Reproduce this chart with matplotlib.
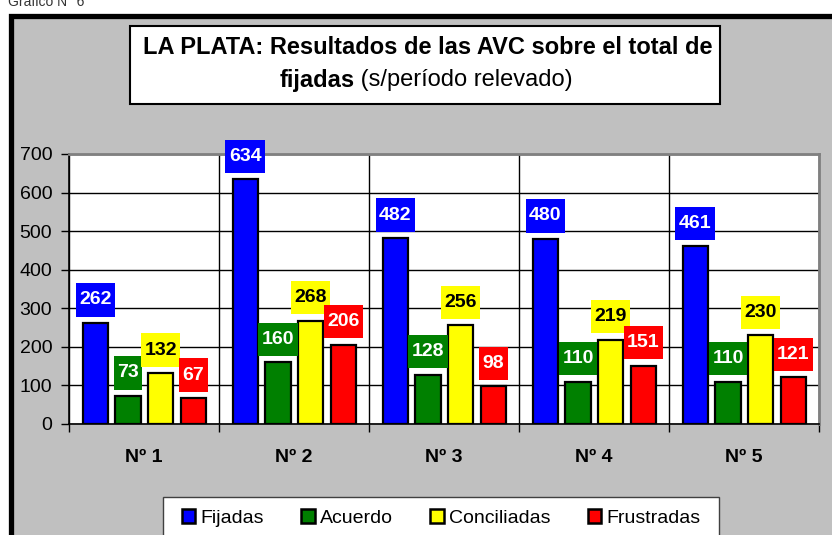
import matplotlib
matplotlib.use("Agg")
import matplotlib.pyplot as plt
from matplotlib.patches import Rectangle, Patch
from matplotlib.path import Path
import numpy as np

plt.rcParams['font.family'] = ['Liberation Sans', 'DejaVu Sans']

categories = ["Nº 1", "Nº 2", "Nº 3", "Nº 4", "Nº 5"]
series_names = ["Fijadas", "Acuerdo", "Conciliadas", "Frustradas"]
fijadas = [262, 634, 482, 480, 461]
acuerdo = [73, 160, 128, 110, 110]
conciliadas = [132, 268, 256, 219, 230]
frustradas = [67, 206, 98, 151, 121]
series = [fijadas, acuerdo, conciliadas, frustradas]
colors = ["#0000ff", "#008000", "#ffff00", "#ff0000"]
label_text_colors = ["white", "white", "black", "white"]
yticks = [0, 100, 200, 300, 400, 500, 600, 700]

W, H = 832, 535
fig = plt.figure(figsize=(W / 100, H / 100), dpi=100)
fig.patch.set_facecolor("white")

def fx(px):
    return px / W

def fy(py):
    return 1 - py / H

def labelbox(x0, y0, width, height, mutation_size):
    padx = 0.18 * mutation_size
    pady = 0.42 * mutation_size
    xa, xb = x0 - padx, x0 + width + padx
    ya, yb = y0 - pady, y0 + height + pady
    return Path([(xa, ya), (xb, ya), (xb, yb), (xa, yb), (xa, ya)], closed=True)

# outer gray panel with thick black border
fig.patches.append(Rectangle((fx(10.5), fy(600)), fx(900), fy(16) - fy(600),
                             transform=fig.transFigure, facecolor="#c0c0c0",
                             edgecolor="black", linewidth=3.8, zorder=0))
fig.text(fx(8), fy(2), "Gráfico N° 6", fontsize=10, ha="left", va="center", color="#333333")

# title box
fig.patches.append(Rectangle((fx(130), fy(104)), fx(590), fy(26) - fy(104),
                             transform=fig.transFigure, facecolor="white",
                             edgecolor="black", linewidth=1.5, zorder=1))
fig.text(fx(428), fy(48), "LA PLATA: Resultados de las AVC sobre el total de",
         fontsize=17, fontweight="bold", ha="center", va="center", zorder=2)
t_bold = fig.text(0, fy(80), "fijadas", fontsize=17, fontweight="bold",
                  ha="left", va="center", zorder=2)
t_norm = fig.text(0, fy(80), " (s/período relevado)", fontsize=17,
                  ha="left", va="center", zorder=2)

# plot area
ax = fig.add_axes([fx(69), fy(424), fx(819) - fx(69), fy(154) - fy(424)])
ax.set_facecolor("white")
ax.set_zorder(3)
x = np.arange(len(categories))
offsets = [-0.325, -0.107, 0.11, 0.33]
bw = 0.168
for s, vals in enumerate(series):
    ax.bar(x + offsets[s], vals, width=bw, color=colors[s],
           edgecolor="black", linewidth=1.6, zorder=3)
    for xi, v in zip(x, vals):
        ax.annotate(str(v), (xi + offsets[s], v), xytext=(0, 23),
                    textcoords="offset pixels", ha="center", va="center",
                    fontsize=14, fontweight="bold", color=label_text_colors[s],
                    bbox=dict(boxstyle=labelbox, facecolor=colors[s],
                              edgecolor="none"), zorder=5,
                    annotation_clip=False)

ax.set_xlim(-0.5, len(categories) - 0.5)
ax.set_ylim(0, 700)
ax.set_yticks(yticks)
ax.set_yticklabels([str(t) for t in yticks], fontsize=14)
ax.set_xticks(np.arange(len(categories) + 1) - 0.5)
ax.set_xticklabels([])
ax.set_xticks(x, minor=True)
ax.set_xticklabels(categories, minor=True, fontsize=14, fontweight="bold")
ax.tick_params(axis="x", which="minor", length=0, pad=18)
ax.tick_params(axis="x", which="major", length=6, direction="out", color="black", width=1)
ax.tick_params(axis="y", length=6, direction="out", width=1, pad=6)
ax.grid(True, axis="y", color="black", linewidth=1, zorder=1)
ax.grid(True, axis="x", which="major", color="black", linewidth=1, zorder=1)
ax.set_axisbelow(True)
for side in ["top", "right"]:
    ax.spines[side].set_color("#808080")
    ax.spines[side].set_linewidth(2)
for side in ["left", "bottom"]:
    ax.spines[side].set_color("black")
    ax.spines[side].set_linewidth(1.2)

# legend box
fig.patches.append(Rectangle((fx(163), fy(600)), fx(556), fy(497) - fy(600),
                             transform=fig.transFigure, facecolor="white",
                             edgecolor="#404040", linewidth=1, zorder=1))
handles = [Patch(facecolor=c, edgecolor="black", linewidth=1.8) for c in colors]
leg = fig.legend(handles, series_names, loc="center", ncol=4,
                 bbox_to_anchor=(fx(441), fy(518)), frameon=False,
                 fontsize=14, handlelength=0.7, handleheight=0.7,
                 handletextpad=0.25, columnspacing=1.93, borderaxespad=0,
                 borderpad=0)

# position second title line
fig.canvas.draw()
r = fig.canvas.get_renderer()
wb = t_bold.get_window_extent(r).width
wn = t_norm.get_window_extent(r).width
start = 426 - (wb + wn) / 2
t_bold.set_x(fx(start))
t_norm.set_x(fx(start + wb))

fig.savefig("out.png", dpi=100)
